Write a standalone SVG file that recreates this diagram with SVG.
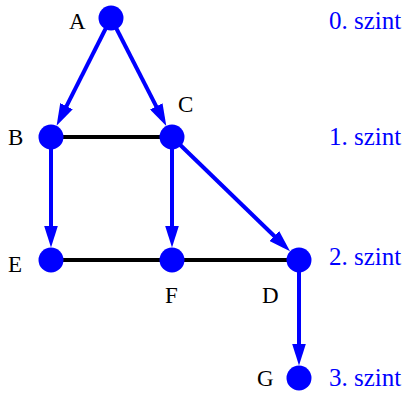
<svg xmlns="http://www.w3.org/2000/svg" width="405" height="393" viewBox="0 0 405 393">
<style>
.e{stroke:#0000ff;stroke-width:4;fill:none;marker-end:url(#ah)}
.u{stroke:#000;stroke-width:4;fill:none}
.n{fill:#0000ff}
.l{font-family:"Liberation Serif","Times New Roman",serif;font-size:23px;fill:#000}
.s{font-family:"Liberation Serif","Times New Roman",serif;font-size:25px;fill:#0000ff}
</style>
<defs>
<marker id="ah" markerUnits="userSpaceOnUse" markerWidth="22" markerHeight="14" viewBox="0 0 22 14" refX="14" refY="7" orient="auto">
<path d="M0,0 L22,7 L0,14 z" fill="#0000ff"/>
</marker>
</defs>
<g id="connectors">
<line class="u" x1="51" y1="137" x2="172" y2="137"/>
<line class="u" x1="51" y1="260" x2="299" y2="260"/>
<line class="e" x1="111" y1="18" x2="60.2" y2="118.7"/>
<line class="e" x1="111" y1="18" x2="162.65" y2="118.8"/>
<line class="e" x1="51" y1="137" x2="51" y2="239.5"/>
<line class="e" x1="172" y1="137" x2="172" y2="239.5"/>
<line class="e" x1="172" y1="137" x2="284.3" y2="245.7"/>
<line class="e" x1="299" y1="260" x2="299" y2="357.5"/>
</g>
<g id="A"><circle class="n" cx="111" cy="18" r="12.5"/><text class="l" x="69" y="29">A</text></g>
<g id="B"><circle class="n" cx="51" cy="137" r="12.5"/><text class="l" x="8" y="145">B</text></g>
<g id="C"><circle class="n" cx="172" cy="137" r="12.5"/><text class="l" x="178" y="112">C</text></g>
<g id="E"><circle class="n" cx="51" cy="260" r="12.5"/><text class="l" x="8" y="272">E</text></g>
<g id="F"><circle class="n" cx="172" cy="260" r="12.5"/><text class="l" x="165" y="303">F</text></g>
<g id="D"><circle class="n" cx="299" cy="260" r="12.5"/><text class="l" x="262" y="303">D</text></g>
<g id="G"><circle class="n" cx="299" cy="378" r="12.5"/><text class="l" x="257" y="386">G</text></g>
<g id="levels">
<text class="s" x="329" y="29">0. szint</text>
<text class="s" x="329" y="145">1. szint</text>
<text class="s" x="329" y="265">2. szint</text>
<text class="s" x="329" y="386">3. szint</text>
</g>
</svg>
